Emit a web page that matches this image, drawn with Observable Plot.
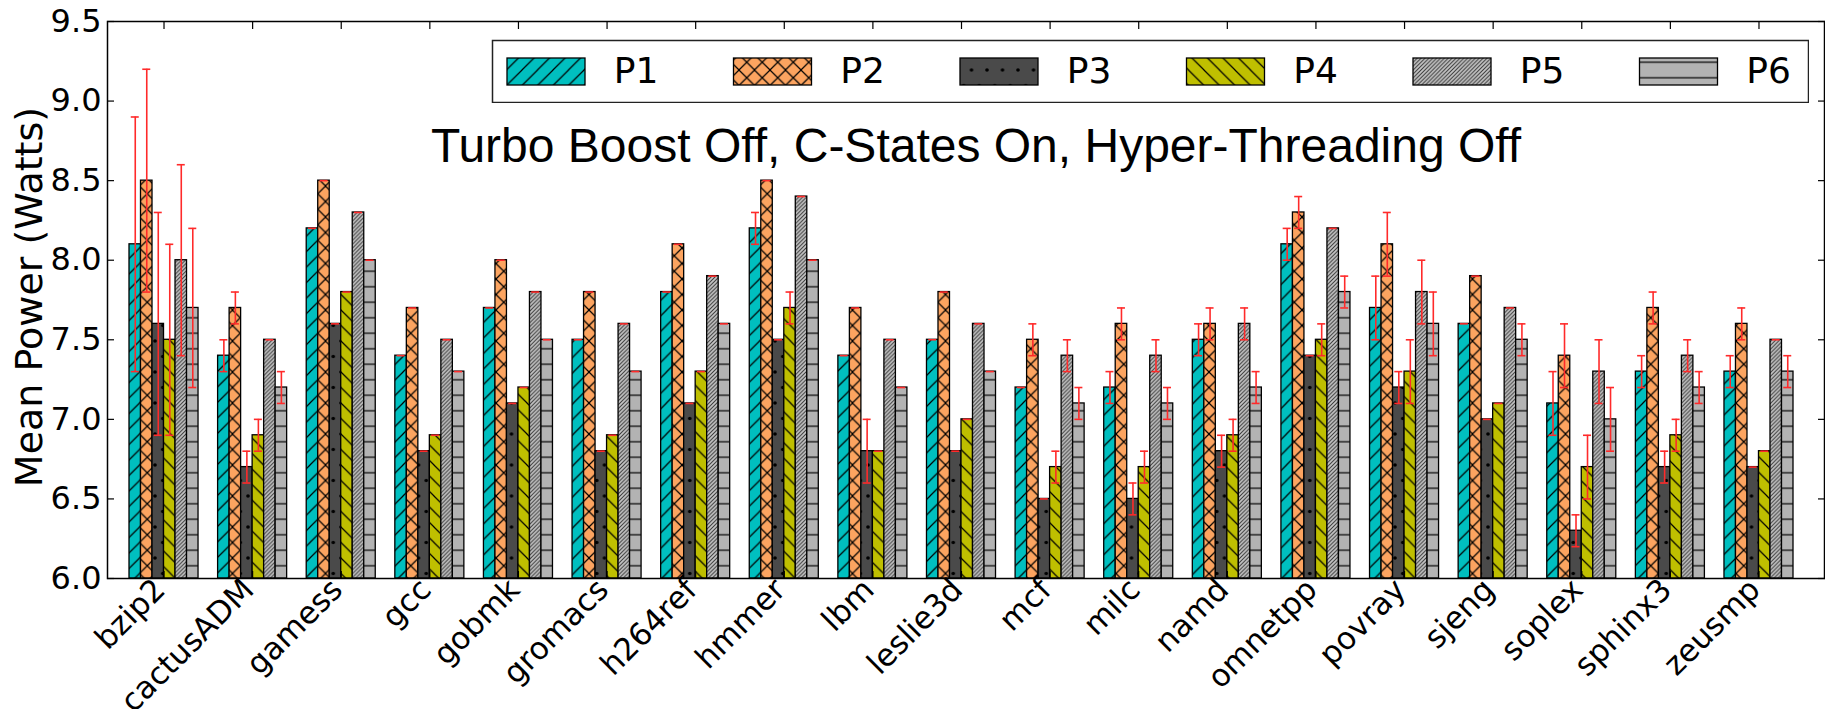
<!DOCTYPE html>
<html><head><meta charset="utf-8">
<script src="https://cdn.jsdelivr.net/npm/d3@7"></script>
<script src="https://cdn.jsdelivr.net/npm/@observablehq/plot@0.6"></script>
<style>
body{margin:0;background:#fff;}
#wrap{position:relative;width:1825px;height:709px;overflow:hidden;}
#legend{position:absolute;left:491px;top:39px;}
</style></head><body>
<svg id="defs" width="0" height="0" style="position:absolute;left:0;top:0">
<defs id="patdefs"></defs></svg>
<div id="wrap"><div id="chart"></div><div id="legend"></div></div>
<script>
// ---- data ----
const benches = ["bzip2","cactusADM","gamess","gcc","gobmk","gromacs","h264ref","hmmer","lbm","leslie3d","mcf","milc","namd","omnetpp","povray","sjeng","soplex","sphinx3","zeusmp"];
const series = ["P1","P2","P3","P4","P5","P6"];
const P1 = [8.1,7.4,8.2,7.4,7.7,7.5,7.8,8.2,7.4,7.5,7.2,7.2,7.5,8.1,7.7,7.6,7.1,7.3,7.3];
const P1err = [0.8,0.1,0,0,0,0,0,0.1,0,0,0,0.1,0.1,0.1,0.2,0,0.2,0.1,0.1];
const P2 = [8.5,7.7,8.5,7.7,8.0,7.8,8.1,8.5,7.7,7.8,7.5,7.6,7.6,8.3,8.1,7.9,7.4,7.7,7.6];
const P2err = [0.7,0.1,0,0,0,0,0,0,0,0,0.1,0.1,0.1,0.1,0.2,0,0.2,0.1,0.1];
const P3 = [7.6,6.7,7.6,6.8,7.1,6.8,7.1,7.5,6.8,6.8,6.5,6.5,6.8,7.4,7.2,7.0,6.3,6.7,6.7];
const P3err = [0.7,0.1,0,0,0,0,0,0,0.2,0,0,0.1,0.1,0,0.1,0,0.1,0.1,0];
const P4 = [7.5,6.9,7.8,6.9,7.2,6.9,7.3,7.7,6.8,7.0,6.7,6.7,6.9,7.5,7.3,7.1,6.7,6.9,6.8];
const P4err = [0.6,0.1,0,0,0,0,0,0.1,0,0,0.1,0.1,0.1,0.1,0.2,0,0.2,0.1,0];
const P5 = [8.0,7.5,8.3,7.5,7.8,7.6,7.9,8.4,7.5,7.6,7.4,7.4,7.6,8.2,7.8,7.7,7.3,7.4,7.5];
const P5err = [0.6,0,0,0,0,0,0,0,0,0,0.1,0.1,0.1,0,0.2,0,0.2,0.1,0];
const P6 = [7.7,7.2,8.0,7.3,7.5,7.3,7.6,8.0,7.2,7.3,7.1,7.1,7.2,7.8,7.6,7.5,7.0,7.2,7.3];
const P6err = [0.5,0.1,0,0,0,0,0,0,0,0,0.1,0.1,0.1,0.1,0.2,0.1,0.2,0.1,0.1];
const yTicks = [6.0,6.5,7.0,7.5,8.0,8.5,9.0,9.5];
const yLabel = "Mean Power (Watts)";
const title = "Turbo Boost Off, C-States On, Hyper-Threading Off";

const values = [P1,P2,P3,P4,P5,P6];
const errs = [P1err,P2err,P3err,P4err,P5err,P6err];

// ---- hatch patterns ----
const W = 15.5, H = 15.5;
function slashLines(w,h){let d="";for(const k of [-1,0,1]){d+=`M${-w},${(2+k)*h}L${2*w},${(k-1)*h}`;}return d;}
function backLines(w,h){let d="";for(const k of [-1,0,1]){d+=`M${-w},${(k-1)*h}L${2*w},${(2+k)*h}`;}return d;}
const defs = document.getElementById("patdefs");
defs.innerHTML = `
<pattern id="h1" patternUnits="userSpaceOnUse" width="${W}" height="${H}"><rect width="${W}" height="${H}" fill="#00bfbf"/><path d="${slashLines(W,H)}" stroke="#000" stroke-width="1.2"/></pattern>
<pattern id="h2" patternUnits="userSpaceOnUse" width="${W}" height="${H}"><rect width="${W}" height="${H}" fill="#fca460"/><path d="${slashLines(W,H)}${backLines(W,H)}" stroke="#000" stroke-width="1.2"/></pattern>
<pattern id="h3" patternUnits="userSpaceOnUse" width="${W}" height="${2*H}"><rect width="${W}" height="${2*H}" fill="#4a4a4a"/><g fill="#000"><circle cx="0" cy="0" r="1.8"/><circle cx="${W}" cy="0" r="1.8"/><circle cx="0" cy="${2*H}" r="1.8"/><circle cx="${W}" cy="${2*H}" r="1.8"/><circle cx="${W/2}" cy="${H}" r="1.8"/></g></pattern>
<pattern id="h4" patternUnits="userSpaceOnUse" width="${W}" height="${H}"><rect width="${W}" height="${H}" fill="#bfbf00"/><path d="${backLines(W,H)}" stroke="#000" stroke-width="1.2"/></pattern>
<pattern id="h5" patternUnits="userSpaceOnUse" width="${W/4}" height="${H/4}"><rect width="${W/4}" height="${H/4}" fill="#c8c8c8"/><path d="${slashLines(W/4,H/4)}" stroke="#333" stroke-width="1"/></pattern>
<pattern id="h6" patternUnits="userSpaceOnUse" width="${W}" height="${H}"><rect width="${W}" height="${H}" fill="#b3b3b3"/><path d="M-1,${H/2}L${W+1},${H/2}" stroke="#000" stroke-width="1.2"/></pattern>`;
const fills = ["url(#h1)","url(#h2)","url(#h3)","url(#h4)","url(#h5)","url(#h6)"];

// ---- table ----
const rows = [];
series.forEach((s,k)=>benches.forEach((b,i)=>rows.push({bench:b, series:s, value:values[k][i], err:errs[k][i]})));

const xRange = [129,1793], padIn = 0.221;
const band = d3.scaleBand().domain(benches).range(xRange).paddingInner(padIn).paddingOuter(0);
const bw = band.bandwidth(), bw6 = bw/series.length, capW = 8;
const red = "#ff2a2a";

const marks = [];
series.forEach((s,k)=>{
  const d = rows.filter(r=>r.series===s);
  marks.push(Plot.barY(d,{x:"bench", y1:()=>yTicks[0], y2:"value", fill:fills[k], stroke:"#000", strokeWidth:1.3,
    insetLeft:k*bw6, insetRight:bw-(k+1)*bw6}));
});
series.forEach((s,k)=>{
  const d = rows.filter(r=>r.series===s);
  const off = (k+0.5)*bw6 - bw/2;
  const il = k*bw6 + (bw6-capW)/2, ir = bw - il - capW;
  marks.push(Plot.ruleX(d.filter(r=>r.err>0),{x:"bench", y1:r=>r.value-r.err, y2:r=>r.value+r.err, dx:off, stroke:red, strokeWidth:1.6}));
  marks.push(Plot.tickY(d,{x:"bench", y:r=>r.value+r.err, insetLeft:il, insetRight:ir, stroke:red, strokeWidth:1.6}));
  marks.push(Plot.tickY(d.filter(r=>r.err>0),{x:"bench", y:r=>r.value-r.err, insetLeft:il, insetRight:ir, stroke:red, strokeWidth:1.6}));
});

const chart = Plot.plot({
  width:1825, height:709,
  marginLeft:107, marginRight:1, marginTop:21, marginBottom:131,
  style:{fontFamily:"DejaVu Sans", background:"#fff", color:"#000"},
  x:{type:"band", domain:benches, range:xRange, paddingInner:padIn, paddingOuter:0, round:false, axis:null},
  y:{domain:[yTicks[0], yTicks[yTicks.length-1]], axis:null},
  marks:[
    ...marks,
    Plot.axisY({anchor:"left", ticks:yTicks, tickSize:0, tickPadding:6, tickFormat:d3.format(".1f"), fontSize:32, label:null}),
    Plot.axisY({anchor:"left", ticks:yTicks, tickSize:7, dx:7, tickFormat:()=>"", label:null, strokeWidth:1.2}),
    Plot.axisY({anchor:"right", ticks:yTicks, tickSize:7, dx:-7, tickFormat:()=>"", label:null, strokeWidth:1.2}),
    Plot.axisX({anchor:"top", tickSize:7, dy:7, tickFormat:()=>"", label:null, strokeWidth:1.2}),
    Plot.axisX({anchor:"bottom", tickSize:7, dy:-7, tickFormat:()=>"", label:null, strokeWidth:1.2}),
    Plot.axisX({anchor:"bottom", tickSize:0, tickPadding:6, tickRotate:-45, dx:-4, fontSize:31, label:null}),
    Plot.frame({stroke:"#000", strokeWidth:1.5}),
    Plot.text([title],{text:d=>d, frameAnchor:"top", lineAnchor:"top", dy:106, dx:10, fontSize:48, fontFamily:"Liberation Sans", fill:"#000"}),
    Plot.text([yLabel],{text:d=>d, frameAnchor:"left", textAnchor:"middle", lineAnchor:"middle", rotate:-90, dx:-78, dy:-3, fontSize:38, fill:"#000"})
  ]
});
document.getElementById("chart").appendChild(chart);

// ---- legend ----
const step = 226.5;
const legMarks = [Plot.frame({stroke:"#222", strokeWidth:1.5})];
series.forEach((s,k)=>{
  legMarks.push(Plot.cell([s],{x:d=>d, fill:fills[k], stroke:"#000", strokeWidth:1.3, insetTop:18, insetBottom:17, insetRight:step-78}));
});
legMarks.push(Plot.text(series,{x:d=>d, text:d=>d, textAnchor:"start", dx:-7, fontSize:36, fill:"#000"}));
const legend = Plot.plot({
  width:1318, height:64, margin:1,
  style:{fontFamily:"DejaVu Sans", background:"transparent", color:"#000"},
  x:{type:"band", domain:series, range:[16,16+6*step], padding:0, round:false, axis:null},
  marks:legMarks
});
document.getElementById("legend").appendChild(legend);
</script>
</body></html>
